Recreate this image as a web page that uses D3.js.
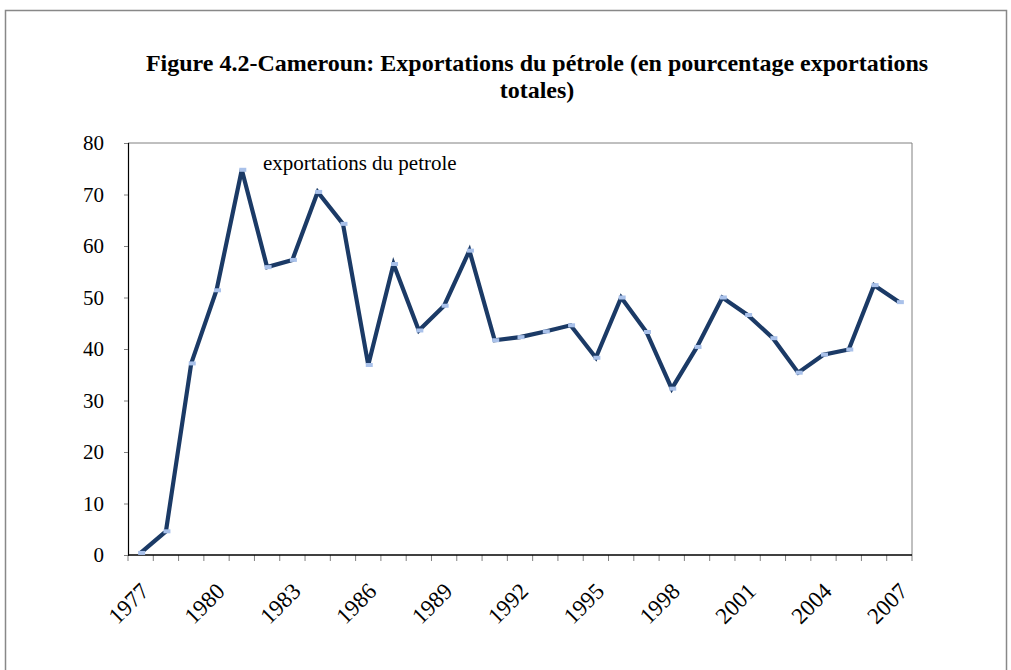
<!DOCTYPE html>
<html>
<head>
<meta charset="utf-8">
<script src="https://cdn.jsdelivr.net/npm/d3@7/dist/d3.min.js"></script>
<style>
  html, body { margin: 0; padding: 0; background: #fff; }
  svg { display: block; }
</style>
</head>
<body>
<svg id="chart" width="1011" height="670"></svg>
<script>
const years = [1977,1978,1979,1980,1981,1982,1983,1984,1985,1986,1987,1988,1989,1990,1991,1992,1993,1994,1995,1996,1997,1998,1999,2000,2001,2002,2003,2004,2005,2006,2007];
const oilShare = [0.4,4.6,37.2,51.4,74.8,55.9,57.3,70.5,64.3,36.9,56.5,43.6,48.4,59.1,41.7,42.3,43.4,44.6,38.3,50.0,43.3,32.3,40.4,50.0,46.6,42.1,35.4,38.9,39.9,52.4,49.1];
const yTicks = [0,10,20,30,40,50,60,70,80];
const xLabelYears = [1977,1980,1983,1986,1989,1992,1995,1998,2001,2004,2007];
const titleLines = ["Figure 4.2-Cameroun: Exportations du pétrole (en pourcentage exportations", "totales)"];
const seriesName = "exportations du petrole";

const svg = d3.select("#chart");
const serif = "'Liberation Serif', 'Times New Roman', serif";

// outer frame
svg.append("rect").attr("x", 5.5).attr("y", 10.5).attr("width", 1001).attr("height", 700)
  .attr("fill", "none").attr("stroke", "#888").attr("stroke-width", 1.5);

const L = 128, R = 912, T = 143, B = 555;

const x = d3.scaleBand().domain(years).range([L, R]).padding(0);
const y = d3.scaleLinear().domain([0, 80]).range([B, T]);

// title
svg.append("g").selectAll("text").data(titleLines).join("text")
  .attr("x", 537).attr("y", (d, i) => 71 + i * 27)
  .attr("text-anchor", "middle")
  .attr("font-family", serif).attr("font-weight", "bold").attr("font-size", 24)
  .attr("fill", "#000").text(d => d);

// plot border (top and right gray)
svg.append("path").attr("d", `M${L},${T}H${R}V${B}`)
  .attr("fill", "none").attr("stroke", "#808080").attr("stroke-width", 1);

// y axis
const yAxis = svg.append("g").attr("transform", `translate(${L},0)`)
  .call(d3.axisLeft(y).tickValues(yTicks).tickSize(4).tickPadding(20));
yAxis.select(".domain").attr("stroke", "#000").attr("stroke-width", 1.2);
yAxis.selectAll(".tick line").attr("stroke", "#808080");
yAxis.selectAll(".tick text").attr("font-family", serif).attr("font-size", 21).attr("fill", "#000");

// x axis: ticks at band boundaries
const boundaries = years.map(d => x(d)).concat([R]);
const xg = svg.append("g");
xg.selectAll("line.tk").data(boundaries).join("line").attr("class", "tk")
  .attr("x1", d => d).attr("x2", d => d).attr("y1", B).attr("y2", B + 6)
  .attr("stroke", "#808080").attr("stroke-width", 1);
xg.append("line").attr("x1", L).attr("x2", R).attr("y1", B).attr("y2", B)
  .attr("stroke", "#000").attr("stroke-width", 1.5);
xg.selectAll("text").data(xLabelYears).join("text")
  .attr("transform", d => `translate(${x(d) + x.bandwidth() / 2 + 6},${B + 34}) rotate(-45)`)
  .attr("text-anchor", "end")
  .attr("dominant-baseline", "middle")
  .attr("font-family", serif).attr("font-size", 23).attr("fill", "#000")
  .text(d => d);

// line
const data = years.map((yr, i) => ({ yr, v: oilShare[i] }));
const line = d3.line().x(d => x(d.yr) + x.bandwidth() / 2).y(d => y(d.v));
svg.append("path").datum(data).attr("d", line)
  .attr("fill", "none").attr("stroke", "#1b3a66").attr("stroke-width", 4.2)
  .attr("stroke-linejoin", "miter");

// markers
svg.append("g").selectAll("rect").data(data).join("rect")
  .attr("x", d => x(d.yr) + x.bandwidth() / 2 - 2.5)
  .attr("y", d => y(d.v) - 2)
  .attr("width", 7).attr("height", 4)
  .attr("fill", "#a9c1ea");

// series label
svg.append("text").attr("x", 263).attr("y", 170)
  .attr("font-family", serif).attr("font-size", 21).attr("fill", "#000")
  .text(seriesName);
</script>
</body>
</html>
